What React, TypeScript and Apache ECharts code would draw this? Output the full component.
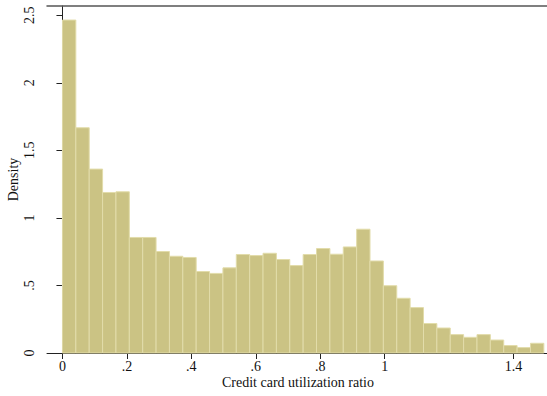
import React, { useEffect, useRef } from "react";
import * as echarts from "echarts";

// Histogram: 36 bins starting at 0
const binStart = 0;
const binWidth = 0.0415;
const densities = [
  2.464, 1.667, 1.361, 1.188, 1.193, 0.855, 0.855, 0.751, 0.716, 0.707,
  0.603, 0.589, 0.63, 0.729, 0.721, 0.738, 0.692, 0.647, 0.729, 0.773,
  0.731, 0.785, 0.916, 0.681, 0.498, 0.405, 0.336, 0.218, 0.185, 0.136,
  0.116, 0.136, 0.096, 0.055, 0.04, 0.072,
];
const xTickValues = [0, 0.2, 0.4, 0.6, 0.8, 1, 1.4];
const xTickLabels = ["0", ".2", ".4", ".6", ".8", "1", "1.4"];
const yTickValues = [0, 0.5, 1, 1.5, 2, 2.5];
const yTickLabels = ["0", ".5", "1", "1.5", "2", "2.5"];

const xMin = -0.048;
const xMax = 1.51;
const yMin = 0;
const yMax = 2.568;

const FONT = "Liberation Serif";

export default function App() {
  const ref = useRef<HTMLDivElement>(null);
  useEffect(() => {
    if (!ref.current) return;
    const chart = echarts.init(ref.current, undefined, { renderer: "svg" });
    const data = densities.map((d, i) => [
      binStart + i * binWidth,
      binStart + (i + 1) * binWidth,
      d,
    ]);
    const fmt = (list: number[], labels: string[]) => (v: number) => {
      const idx = list.findIndex((t) => Math.abs(t - v) < 1e-6);
      return idx >= 0 ? labels[idx] : "";
    };
    chart.setOption({
      animation: false,
      backgroundColor: "#ffffff",
      grid: {
        left: 47,
        right: -2,
        top: 6,
        bottom: 43,
        containLabel: false,
        outerBoundsMode: "none",
      },
      xAxis: [
        {
          type: "value",
          min: xMin,
          max: xMax,
          name: "Credit card utilization ratio",
          nameLocation: "middle",
          nameGap: 22,
          nameMoveOverlap: false,
          nameTextStyle: { fontFamily: FONT, fontSize: 14, color: "#111" },
          splitLine: { show: false },
          axisLine: { show: true, lineStyle: { color: "#222", width: 1 } },
          axisTick: {
            show: true,
            length: 6,
            customValues: xTickValues,
            lineStyle: { color: "#222" },
          },
          axisLabel: {
            customValues: xTickValues,
            formatter: fmt(xTickValues, xTickLabels),
            fontFamily: FONT,
            fontSize: 14,
            color: "#111",
            margin: 6,
          },
        },
        {
          type: "value",
          position: "top",
          min: xMin,
          max: xMax,
          splitLine: { show: false },
          axisLine: { show: true, lineStyle: { color: "#555", width: 1.5 } },
          axisTick: { show: false },
          axisLabel: { show: false },
        },
      ],
      yAxis: {
        type: "value",
        min: yMin,
        max: yMax,
        name: "Density",
        nameLocation: "middle",
        nameGap: 27,
        nameMoveOverlap: false,
        nameRotate: 90,
        nameTextStyle: { fontFamily: FONT, fontSize: 14, color: "#111" },
        splitLine: { show: false },
        axisLine: { show: true, lineStyle: { color: "#222", width: 1 } },
        axisTick: {
          show: true,
          length: 6,
          customValues: yTickValues,
          lineStyle: { color: "#222" },
        },
        axisLabel: {
          customValues: yTickValues,
          formatter: fmt(yTickValues, yTickLabels),
          rotate: 90,
          fontFamily: FONT,
          fontSize: 14,
          color: "#111",
          margin: 11,
        },
      },
      series: [
        {
          type: "custom",
          xAxisIndex: 0,
          data,
          renderItem: (params: any, api: any) => {
            const x0 = api.value(0);
            const x1 = api.value(1);
            const h = api.value(2);
            const p0 = api.coord([x0, h]);
            const p1 = api.coord([x1, 0]);
            return {
              type: "rect",
              shape: {
                x: p0[0],
                y: p0[1],
                width: p1[0] - p0[0],
                height: p1[1] - p0[1],
              },
              style: {
                fill: "#cbc384",
                stroke: "#e2dcaa",
                lineWidth: 1,
              },
            };
          },
        },
      ],
    });
    return () => chart.dispose();
  }, []);
  return (
    <div
      ref={ref}
      style={{ position: "absolute", left: 0, top: 0, width: 547, height: 396 }}
    />
  );
}
